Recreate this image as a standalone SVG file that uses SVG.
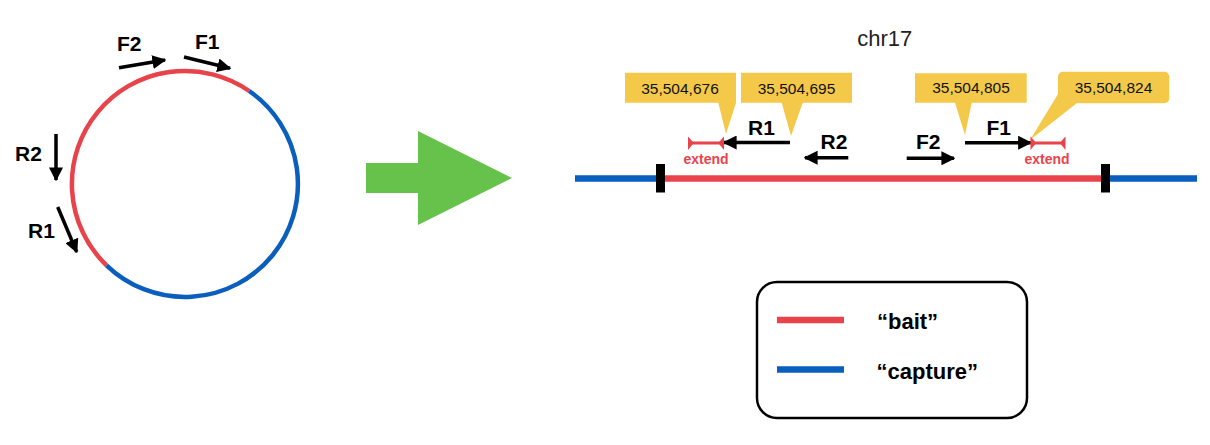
<svg xmlns="http://www.w3.org/2000/svg" width="1210" height="445" viewBox="0 0 1210 445">
<style>
.lbl{font-family:"Liberation Sans",Arial,sans-serif;font-weight:bold;font-size:21px;fill:#000}
.num{font-family:"Liberation Sans",Arial,sans-serif;font-size:15.5px;fill:#111;text-anchor:middle}
.ext{font-family:"Liberation Sans",Arial,sans-serif;font-weight:bold;font-size:14px;fill:#E8434B;text-anchor:middle}
.leg{font-family:"Liberation Sans",Arial,sans-serif;font-weight:bold;font-size:22px;fill:#000}
.red{stroke:#E8434B;fill:none}
.blue{stroke:#0A5EBE;fill:none}
.arr{stroke:#000;stroke-width:3.5;fill:none}
.call{fill:#F4C94A}
.cap{fill:#E8434B}
</style>
<defs>
<marker id="head" viewBox="0 0 10 10" refX="9" refY="5" markerWidth="4" markerHeight="4" markerUnits="strokeWidth" orient="auto">
<path d="M0,0 L10,5 L0,10 Z" fill="#000"/>
</marker>
</defs>
<rect width="1210" height="445" fill="#fff"/>

<g id="plasmid">
<path class="red" stroke-width="4.5" d="M249.2,91 A113,113 0 0 0 106.5,265.3"/>
<path class="blue" stroke-width="4.5" d="M249.2,91 A113,113 0 1 1 106.5,265.3"/>
</g>

<g id="circle-primers">
<line class="arr" x1="119" y1="67.7" x2="165" y2="60" marker-end="url(#head)"/>
<line class="arr" x1="184" y1="57" x2="230" y2="68.3" marker-end="url(#head)"/>
<line class="arr" x1="56" y1="134" x2="56" y2="180" marker-end="url(#head)"/>
<line class="arr" x1="57.7" y1="207" x2="76.7" y2="252" marker-end="url(#head)"/>
<text class="lbl" x="117" y="51">F2</text>
<text class="lbl" x="195" y="48.5">F1</text>
<text class="lbl" x="15" y="161">R2</text>
<text class="lbl" x="28" y="238">R1</text>
</g>

<g id="green-arrow">
<polygon fill="#66C24A" points="366,163 418,163 418,131 512,178 418,225 418,193 366,193"/>
</g>

<g id="chromosome">
<text x="884.7" y="46" text-anchor="middle" font-family="Liberation Sans, Arial, sans-serif" font-size="22" fill="#222">chr17</text>
<line class="blue" stroke-width="6.5" x1="575" y1="178.5" x2="660" y2="178.5"/>
<line class="red" stroke-width="6.5" x1="660" y1="178.5" x2="1105" y2="178.5"/>
<line class="blue" stroke-width="6.5" x1="1105" y1="178.5" x2="1197" y2="178.5"/>
<rect x="656" y="164" width="9" height="28.5" fill="#000"/>
<rect x="1101" y="164" width="9" height="28.5" fill="#000"/>
</g>

<g id="callout-676">
<path class="call" d="M625,72.7 H736 V102.7 L726,134 L718.3,102.7 H625 Z"/>
<text class="num" x="680" y="93.5">35,504,676</text>
</g>
<g id="callout-695">
<path class="call" d="M741,72.7 H852 V102.7 H802.7 L791,136 L781.7,102.7 H741 Z"/>
<text class="num" x="796.5" y="93.5">35,504,695</text>
</g>
<g id="callout-805">
<path class="call" d="M915,73.3 H1026.7 V102.7 H971.7 L965,135 L955,102.7 H915 Z"/>
<text class="num" x="971" y="93">35,504,805</text>
</g>
<g id="callout-824">
<path class="call" d="M1063,71.7 H1164.3 A5,5 0 0 1 1169.3,76.7 V98.3 A5,5 0 0 1 1164.3,103.3 H1076.7 L1030,140 L1058,94 V76.7 A5,5 0 0 1 1063,71.7 Z"/>
<text class="num" x="1113.5" y="93">35,504,824</text>
</g>

<g id="primers-line">
<line class="arr" x1="790" y1="142.5" x2="724" y2="142.5" marker-end="url(#head)"/>
<text class="lbl" x="748" y="135">R1</text>
<line class="arr" x1="848.3" y1="157.7" x2="805" y2="157.7" marker-end="url(#head)"/>
<text class="lbl" x="820.5" y="148.5">R2</text>
<line class="arr" x1="906.7" y1="158.3" x2="954" y2="158.3" marker-end="url(#head)"/>
<text class="lbl" x="916" y="148.5">F2</text>
<line class="arr" x1="965" y1="142.7" x2="1030.7" y2="142.7" marker-end="url(#head)"/>
<text class="lbl" x="986.5" y="135">F1</text>
</g>

<g id="extend-left">
<line class="red" stroke-width="3" x1="689" y1="143" x2="723" y2="143"/>
<path class="cap" d="M688,136.5 L692.5,141.5 V144.5 L688,150 Z"/>
<path class="cap" d="M724,136.5 L719.5,141.5 V144.5 L724,150 Z"/>
<text class="ext" x="706" y="164">extend</text>
</g>
<g id="extend-right">
<line class="red" stroke-width="3" x1="1031" y1="143" x2="1065" y2="143"/>
<path class="cap" d="M1030.5,136.5 L1035,141.5 V144.5 L1030.5,150 Z"/>
<path class="cap" d="M1065.5,136.5 L1061,141.5 V144.5 L1065.5,150 Z"/>
<text class="ext" x="1047" y="164">extend</text>
</g>

<g id="legend">
<rect x="757" y="282" width="270" height="136" rx="20" ry="20" fill="#fff" stroke="#000" stroke-width="2.5"/>
<line class="red" stroke-width="6.5" x1="777" y1="320" x2="844" y2="320"/>
<line class="blue" stroke-width="6.5" x1="777" y1="369.5" x2="844" y2="369.5"/>
<text class="leg" x="877" y="328.5">“bait”</text>
<text class="leg" x="876.5" y="378.5">“capture”</text>
</g>
</svg>
